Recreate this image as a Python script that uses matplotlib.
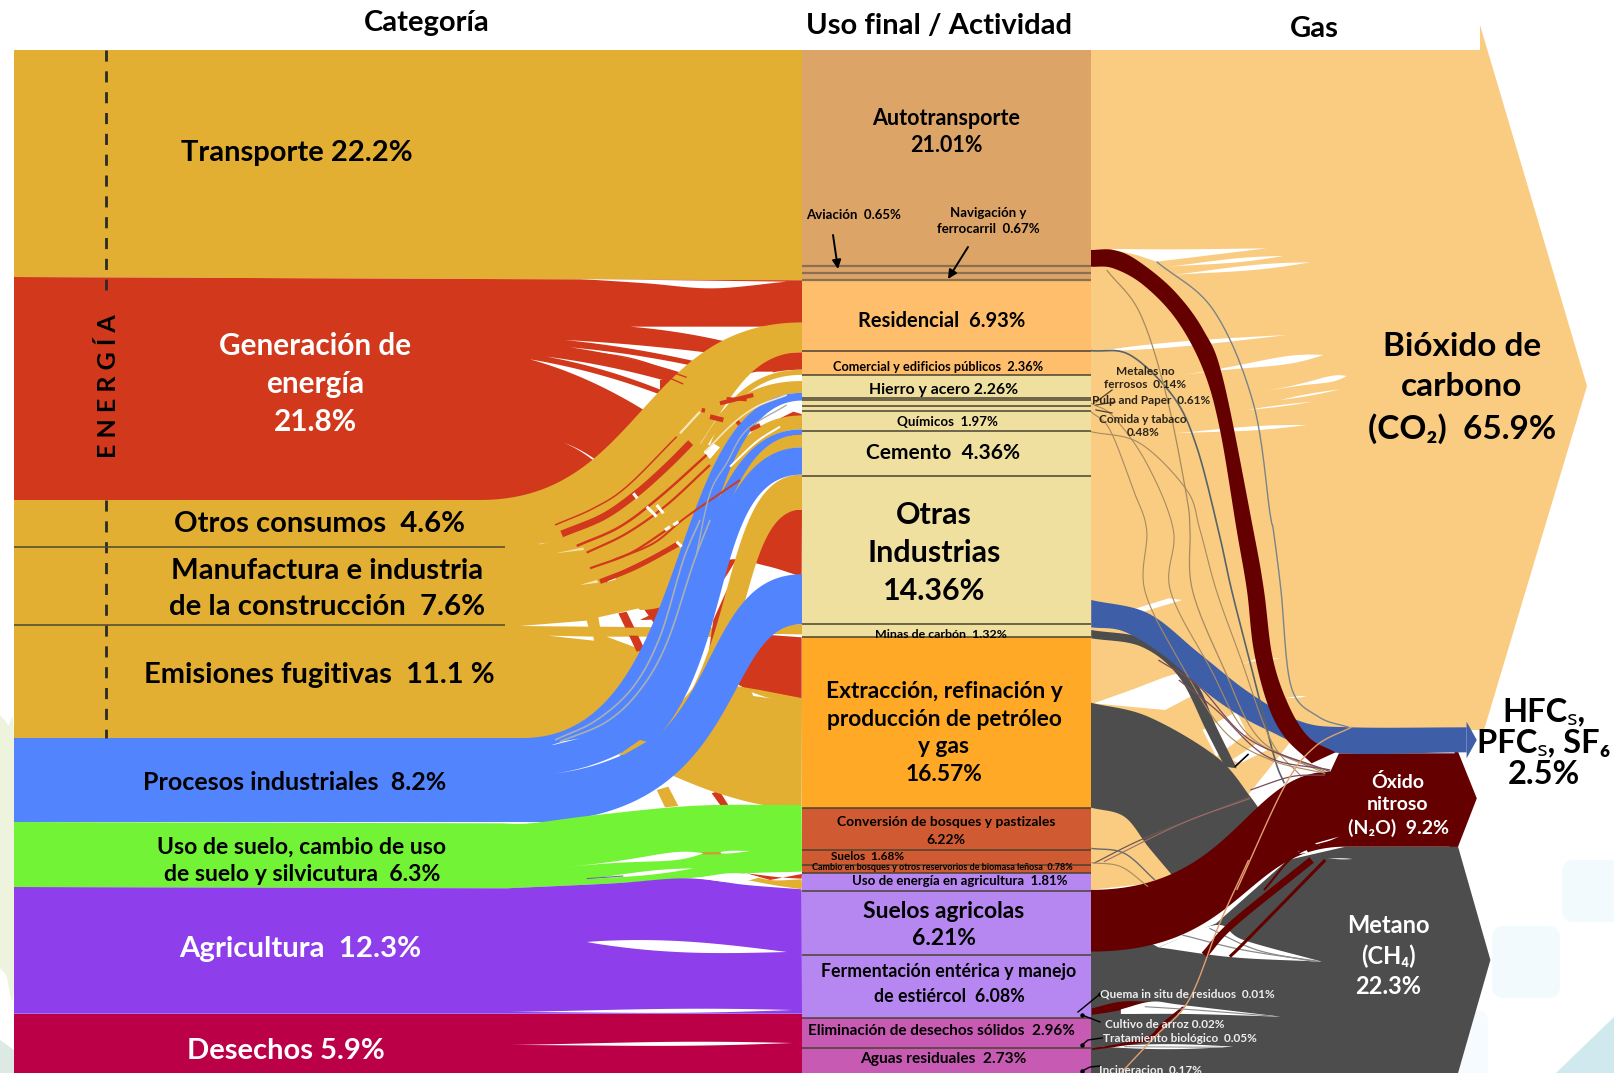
"""Sankey of emissions: category -> end use -> gas, drawn by hand with polygons."""
import numpy as np
import matplotlib
matplotlib.use("Agg")
import matplotlib.pyplot as plt
from matplotlib.patches import FancyBboxPatch

W, H = 1614, 1073
FONT = ["Lato", "Noto Sans", "DejaVu Sans"]

GOLD = "#E3AF33"
RED = "#D2391C"
BLUE = "#5285FD"
GREEN = "#73F336"
PURPLE = "#8E3FEB"
CRIMSON = "#BB0047"
PEACH = "#FACC82"
WINE = "#640000"
SLATE = "#4D4D4D"
NAVY = "#3E5FA8"

cat_labels = ["Transporte 22.2%", "Generación de\nenergía\n21.8%", "Otros consumos  4.6%",
              "Manufactura e industria\nde la construcción  7.6%", "Emisiones fugitivas  11.1 %",
              "Procesos industriales  8.2%", "Uso de suelo, cambio de uso\nde suelo y silvicutura  6.3%",
              "Agricultura  12.3%", "Desechos 5.9%"]
cat_values = [22.2, 21.8, 4.6, 7.6, 11.1, 8.2, 6.3, 12.3, 5.9]

use_values = [21.01, 0.65, 0.67, 6.93, 2.36, 2.26, 0.14, 0.61, 0.48, 1.97, 4.36, 14.36, 1.32,
              16.57, 6.22, 1.68, 0.78, 1.81, 6.21, 6.08, 2.96, 2.73]
# the land use block is drawn narrower than its share in the original
use_squeeze = [1, 1, 1, 1, 1, 1, 1, 1, 1, 1, 1, 1, 1, 1, .66, .87, 1, 1, 1, 1, 1, 1]
use_colors = ["#DDA468"] * 3 + ["#FEBE6C"] * 2 + ["#EFE0A0"] * 8 + ["#FFA927"] + ["#D05A32"] * 3 \
    + ["#B687F0"] * 3 + ["#C75AB2"] * 2

# what reaches the left edge of the end use column, top to bottom
left_colors = [GOLD, RED, GOLD, RED, GOLD, RED, GOLD, BLUE, RED, GOLD, BLUE, GOLD, BLUE, GOLD, RED,
               BLUE, GOLD, RED, GOLD, GREEN, RED, GOLD, PURPLE, CRIMSON]
left_values = [22.4, 4.1, 2.9, 1.7, 0.5, 0.6, 1.15, 0.75, 1.45, 1.35, 0.5, 1.25, 2.65, 3.4, 6.3,
               4.85, 1.0, 6.2, 10.0, 6.5, 0.6, 1.15, 12.45, 5.75]
# what leaves the right edge of the end use column
right_colors = [PEACH, WINE, PEACH, NAVY, PEACH, SLATE, PEACH, SLATE, PEACH, WINE, SLATE]
right_values = [19.45, 1.65, 32.4, 2.7, 0.5, 1.15, 5.65, 10.2, 8.0, 6.0, 11.8]

SCALE = 10.28
TOP = 50
XL, XM, XR = 14, 802, 1091

fig = plt.figure(figsize=(W / 100, H / 100), dpi=100)
ax = fig.add_axes([0, 0, 1, 1])
ax.set_xlim(0, W)
ax.set_ylim(H, 0)
ax.axis("off")


def stack(values, factors=None):
    v = np.asarray(values, float) * SCALE
    if factors is not None:
        v = v * np.asarray(factors)
    return TOP + np.concatenate([[0], np.cumsum(v)])


L = stack(left_values)
R = stack(right_values)
M = stack(use_values, use_squeeze)


def bez(p0, p1, k0=.5, k1=.5, n=80):
    t = np.linspace(0, 1, n)[:, None]
    p0, p1 = np.array(p0, float), np.array(p1, float)
    dx = p1[0] - p0[0]
    c0 = p0 + [k0 * dx, 0]
    c1 = p1 - [k1 * dx, 0]
    return (1 - t) ** 3 * p0 + 3 * (1 - t) ** 2 * t * c0 + 3 * (1 - t) * t ** 2 * c1 + t ** 3 * p1


def smooth(pts, n=16):
    p = np.array(pts, float)
    p = np.vstack([2 * p[0] - p[1], p, 2 * p[-1] - p[-2]])
    out = []
    for i in range(1, len(p) - 2):
        t = np.linspace(0, 1, n, endpoint=False)[:, None]
        out.append(.5 * (2 * p[i] + (p[i + 1] - p[i - 1]) * t
                         + (2 * p[i - 1] - 5 * p[i] + 4 * p[i + 1] - p[i + 2]) * t ** 2
                         + (3 * p[i] - p[i - 1] - 3 * p[i + 1] + p[i + 2]) * t ** 3))
    out.append(p[-2:-1])
    return np.vstack(out)


def z(pts, ox, oy, fx=3.0):
    return [(ox + x / fx, oy + y / 3) for x, y in pts]


def z1(*pts):
    return z(pts, 480, 260)


def z2(*pts):
    return z(pts, 480, 520)


def z3(*pts):
    return z(pts, 1080, 230)


def z4(*pts):
    return z(pts, 1080, 590, 2.936)


def z5(*pts):
    return z(pts, 1080, 860, 2.936)


def poly(pts, color, zo=None):
    pts = np.asarray(pts)
    ax.fill(pts[:, 0], pts[:, 1], color=color, lw=0, zorder=zo)


def between(top, bottom, color):
    poly(np.vstack([top, bottom[::-1]]), color)


def curve(pts, color, lw):
    p = smooth(pts)
    ax.plot(p[:, 0], p[:, 1], color=color, lw=lw, solid_capstyle="butt")


def wedge(tip, a, b, color="white", bend=.22):
    """Pointed sliver opening from tip towards the edge a-b."""
    tip, a, b = [np.array(q, float) for q in (tip, a, b)]
    t = np.linspace(0, 1, 30)[:, None]
    def arc(e):
        c = np.array([(tip[0] + e[0]) / 2, tip[1] + bend * (e[1] - tip[1])])
        return (1 - t) ** 2 * tip + 2 * (1 - t) * t * c + t ** 2 * e
    poly(np.vstack([arc(a), arc(b)[::-1]]), color)


def lens(x0, y0, x1, y1, h, peak=.6, color="white"):
    """Sharp ended sliver, h thick at fraction peak of its length."""
    t = np.linspace(0, 1, 40)
    s = np.sin(np.pi * t ** (np.log(.5) / np.log(peak)))
    x = x0 + (x1 - x0) * t
    y = y0 + (y1 - y0) * t
    poly(np.column_stack([np.r_[x, x[::-1]], np.r_[y - h / 2 * s, (y + h / 2 * s)[::-1]]]), color)


# faint background shapes
for (x, y, w, h, c) in [(1562, 860, 90, 62, "#F3FAFD"), (1492, 926, 68, 72, "#F3FAFD"),
                        (1458, 1010, 30, 80, "#F5FBFE")]:
    ax.add_patch(FancyBboxPatch((x, y), w, h, boxstyle="round,pad=0,rounding_size=12", fc=c, ec="none"))
poly([(1556, 1073), (1614, 1017), (1614, 1073)], "#CFE9EE")
poly(smooth([(0, 715), (8, 725), (14, 740), (14, 985), (6, 975), (0, 968)]), "#EEF3DE")
poly([(0, 1040), (14, 1050), (14, 1073), (0, 1073)], "#DDEAE3")

# ---- left half: category -> end use ----
poly([(XL, TOP), (XM, TOP), (XM, L[1]), (480, 279), (XL, 277)], GOLD)

# generation fan
g1_top = bez((480, 500), (XM, L[2]))
poly(np.vstack([[(XL, 277), (480, 279), (XM, L[1]), (XM, L[3] + 4)], g1_top[::-1] + [0, 4], [(XL, 500)]]), RED)
poly(smooth(z1((300, 57), (500, 70), (700, 85), (920, 65))), "white")
wedge(*z1((450, 200), (760, 250), (860, 200)), bend=.25)
wedge(*z1((255, 240), (680, 312), (700, 280)), bend=.3)
wedge(*z1((270, 262), (640, 350), (650, 320)), bend=.3)
wedge(*z1((200, 290), (580, 405), (600, 375)), bend=.3)
wedge(*z1((150, 298), (520, 468), (570, 415)), bend=.3)
for a, b in [((290, 272), (620, 352)), ((300, 280), (610, 372))]:
    curve(z1(a, ((a[0] + b[0]) / 2, a[1] + .3 * (b[1] - a[1])), b), RED, 1.0)
wedge(*z1((250, 548), (368, 625), (372, 618)), bend=.3)

# red that goes on below the main gold band
between(bez((660, 380), (XM, L[3])), bez((660, 410), (XM, L[4])), RED)
poly(z1((720, 370), (760, 350), (830, 335), (880, 335), (850, 380), (760, 440), (690, 500), (620, 540), (600, 500)), "white")
poly(z1((800, 380), (940, 370), (860, 410), (700, 500), (680, 450)), "white")

# gold that feeds Otros consumos / Manufactura / Emisiones
poly([(XL, 500), (560, 500), (XM - 130, 450), (XM - 110, 520), (XM - 120, 600), (620, 700), (560, 738), (XL, 738)], GOLD)
between(bez((530, 553), (XM, L[6]), .62, .5), bez((523, 745), (XM, L[7]), .62, .5), GOLD)
poly(z1((625, 545), (660, 480), (725, 465), (690, 555)), "white")
poly(z1((670, 575), (700, 550), (720, 562), (690, 597)), "white")

# thin gold bands
between(bez((570, 531), (XM, L[4]), .62, .5), bez((580, 538), (XM, L[5]), .62, .5), GOLD)

# red stripes on the gold
for pts, lw in [(((245, 822), (370, 770), (470, 700), (560, 620), (632, 548)), 5.0),
                (((290, 858), (420, 800), (540, 710), (680, 585)), 1.8),
                (((320, 878), (440, 820), (560, 735), (690, 615)), 1.6),
                (((400, 900), (520, 850), (620, 770), (780, 660)), 1.4),
                (((690, 470), (730, 480)), 3.5), (((720, 430), (820, 405)), 3.0),
                (((740, 415), (800, 420)), 2.0), (((810, 510), (840, 495)), 3.0),
                (((770, 492), (780, 485)), 3.0), (((665, 450), (675, 452)), 3.0)]:
    curve(z1(*pts), RED, lw)
for pts, lw in [(((330, 145), (450, 100), (560, 30)), 1.6), (((360, 185), (470, 140), (600, 70)), 3.5),
                (((410, 165), (520, 110), (590, 70)), 2.0)]:
    curve(z2(*pts), RED, lw)
for pts in [z1((460, 700), (472, 715)), z1((500, 740), (530, 770)), z1((530, 735), (550, 760)),
            z1((555, 810), (570, 800)), z1((580, 795), (595, 785)), z1((590, 845), (605, 860))]:
    curve(pts, "white", 2.2)
poly(z1((120, 832), (245, 815), (255, 835), (180, 853)), "white")
poly(z2((225, 100), (310, 82), (312, 90)), "#F5DFA0")
poly(z2((300, 195), (350, 180), (355, 188)), "#F8E8B8")
poly(z2((360, 180), (380, 175), (380, 188)), RED)
poly(z2((380, 172), (405, 165), (408, 178), (385, 185)), "#FFFFFF")
poly(z2((120, 318), (320, 302), (325, 320)), "white")
poly(z2((205, 347), (340, 350), (342, 362)), "white")

# gold band to Residencial, drawn over the stripes
between(g1_top, bez((500, 546), (XM, L[3]), .75, .35), GOLD)
curve(z1((225, 795), (340, 745), (440, 680), (590, 530)), RED, 1.1)
curve(z1((600, 520), (660, 455)), "#F8E8B8", 1.6)

# middle blobs under the blue
poly(z2((355, 292), (490, 262), (530, 322), (360, 320)), "white")
poly(z2((380, 350), (500, 350), (590, 360), (580, 420), (500, 395)), "white")
poly(z2((490, 265), (555, 232), (660, 175), (640, 300), (600, 360), (530, 320)), RED)
poly(z2((415, 280), (440, 275), (495, 390), (470, 395)), RED)
poly(z2((320, 323), (760, 323), (760, 352), (350, 345)), GOLD)
poly(z2((680, 440), (730, 355), (800, 265), (820, 240), (950, 172), (965, 120), (965, 0), (890, 0), (770, 100), (720, 200)), "#FFFFFF")
between(bez((640, 620), (XM, L[14]), .7, .5), smooth(z2((700, 190), (745, 120), (860, 138), (965, 170))), RED)
poly(z2((680, 440), (730, 355), (800, 265), (745, 200), (700, 300)), RED)
poly(z2((742, 218), (795, 262), (790, 268), (737, 228)), "white")
poly(z2((655, 445), (670, 425), (690, 440), (670, 465)), "white")
# Extraccion: red then gold
poly(np.vstack([smooth(z2((800, 340), (965, 352))), smooth(z2((965, 548), (880, 530), (815, 515), (700, 450)))]), RED)
poly(z2((530, 810), (565, 800), (595, 858), (555, 862)), GOLD)
poly(z2((695, 820), (718, 812), (745, 855), (722, 857)), RED)
poly(np.vstack([smooth(z2((560, 760), (700, 815), (850, 855), (965, 858))), [(XM, L[18]), (760, 690), (700, 680), (640, 750)]]), GOLD)
poly(np.vstack([smooth(z2((815, 515), (880, 538), (965, 550))), smooth(z2((965, 552), (880, 560), (815, 530)))]), GOLD)
poly(np.vstack([smooth(z2((815, 517), (860, 532), (895, 538))), z2((820, 528))]), "white")
between(bez((575, 765), (XM, L[13]), .8, .45), bez((610, 765), (XM, L[14]), .8, .4), GOLD)

# horizontal gold band to Minas
poly([(XM - 60, L[16] + 2), (XM, L[16]), (XM, L[17]), (XM - 60, L[17] - 1)], GOLD)
poly(z1((940, 455), (965, 462), (965, 470), (900, 475)), RED)
poly(z1((895, 525), (965, 518), (965, 532), (930, 530)), RED)

# thin gold bands before the blue
between(bez((600, 560), (XM, L[9]), .6, .5), bez((625, 580), (XM, L[10]), .6, .5), GOLD)
between(bez((620, 590), (XM, L[11]), .6, .5), bez((640, 610), (XM, L[12]), .6, .5), GOLD)
curve(z1((675, 575), (760, 490), (830, 440), (920, 405)), "#F5E6C0", 1.2)
curve(z1((750, 620), (830, 545), (900, 500)), "white", 1.4)

# process emissions
poly([(XL, 738), (560, 738), (560, 822), (XL, 822)], BLUE)
between(bez((523, 738), (XM, L[7]), .62, .5), bez((570, 743), (XM, L[8]), .62, .5), BLUE)
between(bez((540, 742), (XM, L[10]), .65, .5), bez((575, 742), (XM, L[11]), .65, .5), BLUE)
curve(z2((225, 660), (350, 600), (460, 500), (540, 350), (610, 120), (660, 0)), "#A8B0B0", 1.2)
curve(z2((240, 665), (380, 605), (480, 510), (560, 370), (640, 130), (690, 0)), "#A8B0B0", 1.2)
curve(z1((650, 880), (690, 700), (740, 610), (800, 510), (920, 435)), "#A8B0B0", 1.0)
between(bez((560, 742), (XM, L[12]), .62, .5), bez((540, 785), (XM, L[13]), .85, .45), BLUE)
poly(z2((200, 680), (250, 664), (300, 655)), "white")
between(bez((555, 773), (XM, L[15]), .7, .45), bez((530, 822), (XM, L[16]), .8, .3), BLUE)
poly([(500, 745), (600, 745), (600, 810), (560, 820), (500, 822)], BLUE)
wedge(*z2((225, 760), (425, 698), (420, 708)), bend=.2)
poly(z2((415, 705), (480, 660), (500, 665), (430, 705)), GOLD)

# land use, agriculture, waste
poly(np.vstack([[(XL, 822)], smooth(z2((60, 910), (150, 910), (350, 885), (650, 857), (965, 855))),
                [(XM, L[20])], smooth(z2((965, 1055), (800, 1060), (620, 1075), (400, 1090), (80, 1105))), [(XL, 887)]]), GREEN)
poly(np.vstack([smooth(z2((800, 1060), (900, 1072), (965, 1076))), [(XM, L[21]), (770, 880)]]), RED)
poly(np.vstack([smooth(z2((780, 1058), (870, 1080), (965, 1078))), [(XM, L[22])], smooth(z2((965, 1108), (880, 1095), (800, 1080)))]), GOLD)
poly(np.vstack([[(XL, 887)], smooth(z2((80, 1105), (400, 1090), (620, 1075), (800, 1095), (965, 1108))), [(XM, L[23]), (XL, L[23])]]), PURPLE)
lens(*z2((640, 1074))[0], *z2((840, 1072))[0], 9, color="white")
poly([(XL, L[23]), (XM, L[23]), (XM, H), (XL, H)], CRIMSON)
lens(*z2((220, 1045))[0], *z2((670, 1000))[0], 8, .8)
lens(*z2((720, 998))[0], *z2((810, 993))[0], 2.5, .3)
poly(z2((668, 996), (722, 996), (722, 1003), (668, 1004)), "#C9A236")
lens(*z2((320, 1078))[0], *z2((640, 1045))[0], 4, .6)
curve(z2((320, 1076), (430, 1068)), "#6A6AA0", .8)
lens(587, 942, 787, 952, 11, .45)
lens(495 * 1.029, 1012, 770 * 1.029, 1010, 4, .6)
lens(495 * 1.029, 1045, 770 * 1.029, 1043, 4, .6)

# ---- end use column ----
for i, v in enumerate(use_values):
    ax.fill_between([XM, XR], M[i], M[i + 1], color=use_colors[i], lw=0)
ax.fill_between([XM, XR], M[21], H, color=use_colors[21], lw=0)
ax.hlines(M[4:22], XM, XR, color="#4A4230", lw=1.1)
ax.hlines(M[[1, 2, 3]], XM, XR, color="#8A6F50", lw=1.6)

# ---- right half: end use -> gas ----
poly([(XR, TOP), (1480, TOP), (1480, 25), (1587, 386), (1484, 730), (1300, 730), (1260, 780),
      (1180, 880), (XR, R[9])], PEACH)
poly(np.vstack([smooth(z4((40, 340), (150, 300), (270, 255), (345, 245))), z4((380, 290), (250, 360))]), "white")
poly(z4((360, 420), (460, 365), (490, 430), (400, 500)), "white")
poly(z4((445, 510), (520, 460), (550, 480), (470, 520)), "white")
poly(z4((500, 630), (600, 560), (700, 530), (735, 540), (620, 570)), "white")
poly(z4((150, 60), (260, 25), (300, 30), (170, 70)), "white")
lens(*z3((70, 362))[0], *z3((620, 315))[0], 5, .4)
lens(*z3((270, 440))[0], *z3((730, 375))[0], 8, .75)
lens(*z3((470, 500))[0], *z3((800, 438))[0], 6, .85)
lens(*z3((600, 510))[0], *z3((780, 478))[0], 2, .5)
lens(*z3((500, 540))[0], *z3((700, 515))[0], 1.5, .5)
lens(*z3((280, 610))[0], *z3((680, 585))[0], 4, .6)
poly(np.vstack([smooth(z3((90, 57), (300, 58), (560, 55))), z3((230, 95), (170, 75))]), "white")
lens(*z3((265, 110))[0], *z3((610, 78))[0], 4, .6)
lens(*z3((275, 135))[0], *z3((690, 97))[0], 5, .6)
lens(*z4((600, 325))[0], *z4((665, 318))[0], 1.5)
poly(z4((590, 205), (500, 215), (470, 225), (520, 205)), "white")

# methane arrow
poly([(XR, R[9] + 20), *z5((230, 262), (400, 190), (610, 0)), *z4((780, 770)), *z4((1085, 770), (1085, 720), (1110, 770)),
      *z5((1205, 300), (1110, 639)), (XR, H)], SLATE)

# big methane arc
poly(np.vstack([smooth([(XR, R[7]), *z4((200, 380), (400, 500), (500, 620), (540, 680))]),
                z4((270, 900)), smooth([*z4((270, 855), (200, 770), (130, 680)), (XR, R[8])])]), SLATE)

# thin methane arc
top = smooth(z4((33, 120), (200, 150), (330, 260), (400, 410), (460, 535)))
bot = smooth(z4((33, 145), (180, 170), (290, 260), (370, 420), (425, 530)))
between(top, bot, SLATE)

# wedge inside methane
poly(np.vstack([smooth(z5((230, 262), (400, 195), (480, 240), (710, 305))), smooth(z5((710, 305), (450, 292), (230, 262)))]), "white")
for a in [z5((300, 225), (480, 270), (700, 304)), z5((380, 205), (520, 270), (690, 305))]:
    curve(a, "#8A8A8A", .9)
poly(np.vstack([smooth(z5((35, 445), (120, 425), (210, 425))), smooth(z5((210, 425), (120, 450), (35, 465)))]), WINE)
poly(np.vstack([smooth(z5((120, 448), (210, 425), (300, 435), (590, 470))), smooth(z5((590, 470), (320, 462), (120, 462)))]), "white")
curve(z5((190, 440), (340, 450), (560, 468)), "#8A8A8A", .8)
lens(*z5((60, 560))[0], *z5((450, 560))[0], 5, .5)
curve(z5((130, 560), (420, 562)), "#9A9A9A", .8)
poly(np.vstack([smooth(z5((35, 565), (120, 550), (200, 530), (240, 490), (300, 440))), smooth(z5((310, 440), (245, 500), (205, 540), (120, 558), (35, 570)))]), WINE)

# nitrous oxide arrow
n_top = bez((XR, R[9]), z4((735, 545))[0], .6, .35)
n_bot = bez((XR, R[10]), z4((780, 770))[0], .6, .4)
poly(np.vstack([n_top, z4((760, 490), (1100, 490), (1100, 460), (1165, 625), (1110, 770)), n_bot[::-1]]), WINE)
for pts, lw in [(z5((365, 285), (450, 190), (680, 0)), 5.0), (z5((440, 290), (490, 240), (720, 0)), 2.2),
                (z4((540, 900), (640, 790), (790, 740)), 1.5)]:
    curve(pts, WINE, lw)
poly(z4((640, 785), (665, 780), (670, 788), (645, 792)), "white")
poly(z4((690, 760), (760, 740), (700, 768)), "white")
lens(*z4((725, 805))[0], *z4((800, 807))[0], 1.5, color="#CFCFCF")

# gas band, HFC
b_top = smooth(z4((33, 30), (200, 70), (350, 190), (500, 310), (650, 395), (800, 412), (1135, 412)))
b_bot = smooth(z4((33, 112), (130, 125), (250, 200), (400, 330), (550, 420), (740, 487), (1135, 487)))
between(b_top, b_bot, NAVY)
poly(z4((1135, 395), (1165, 450), (1135, 505)), NAVY)

# CO2 from end uses into N2O
o_top = smooth([*z3((33, 60), (100, 60), (170, 90), (280, 180), (370, 300), (430, 450), (520, 900)),
                *z4((540, 0), (565, 200), (610, 340), (670, 440), (750, 487))])
o_bot = smooth([*z3((33, 110), (100, 115), (190, 165), (290, 270), (370, 420), (420, 600), (470, 900)),
                *z4((490, 0), (510, 180), (550, 340), (600, 440), (680, 520))])
between(o_top, o_bot, WINE)

# thin lines running into the N2O and CH4 nodes
for pts, c, lw in [
    (z3((33, 362), (150, 375), (280, 500), (350, 650), (415, 900)) + z4((445, 0), (500, 220), (570, 500), (600, 580)), "#5A6468", 1.2),
    (z3((80, 120), (180, 250), (260, 500), (320, 800), (330, 900)) + z4((330, 0), (420, 230), (530, 450), (720, 545)), "#A88A60", .9),
    (z3((33, 520), (100, 560), (200, 700), (280, 900)) + z4((265, 0), (380, 230), (500, 440), (720, 550)), "#A88A60", .8),
    (z3((33, 545), (90, 600), (160, 780), (200, 900)) + z4((190, 0), (290, 210), (420, 420), (560, 510), (720, 550)), "#A88A60", .8),
    (z3((33, 605), (180, 640), (320, 780), (360, 900)) + z4((400, 0), (470, 200), (560, 450), (650, 560)), "#A88A60", .8),
    (z3((230, 95), (400, 240), (520, 520), (570, 850), (580, 900)) + z4((590, 0), (620, 290), (700, 380), (790, 412)), "#7A8488", 1.0),
    (z4((230, 210), (350, 290), (500, 450), (735, 545)), "#7A4A5A", .9),
    (z4((290, 270), (400, 360), (550, 500), (735, 540)), "#7A4A5A", .9),
    (z4((500, 600), (620, 560), (720, 555)), "#7A4A5A", .9),
    (z4((40, 820), (200, 740), (500, 620)), "#6A5A50", .9),
    (z4((70, 815), (300, 700), (500, 625)), "#A06A6A", .8),
    (z4((33, 775), (130, 790), (220, 870)), "#6A6A6A", 1.0),
    (z4((33, 818), (120, 830), (200, 890)), "#A88A60", .8),
    (z4((460, 900), (600, 590), (690, 470), (800, 410)), "#E0A070", 1.0),
    (z5((120, 639), (220, 530), (320, 420), (410, 190), (495, 0)), "#E0A070", 1.0),
]:
    curve(pts, c, lw)
curve(z4((455, 530), (495, 492)), "black", 1.2)

# ---- annotations ----
ax.vlines(106, TOP, 290, color="#2A2A2A", lw=2, linestyle=(0, (4, 3.5)))
ax.vlines(106, 500, 738, color="#2A2A2A", lw=2, linestyle=(0, (4, 3.5)))
ax.hlines([547, 625], XL, 505, color="#4A4A30", lw=1.1)
for (x0, y0, x1, y1) in [(833, 235, 838, 269), (968, 247, 948, 279)]:
    ax.annotate("", xy=(x1, y1), xytext=(x0, y0),
                arrowprops=dict(arrowstyle="-|>", color="black", lw=1.4, mutation_scale=13, shrinkA=0, shrinkB=0))
for a, b in [((1112, 390), (1096, 402)), ((1115, 402), (1096, 405)), ((1112, 413), (1096, 410))]:
    ax.plot(*zip(a, b), color="#4A4230", lw=.9)
for pts in [((1100, 994), (1078, 1012)), ((1082, 1015), (1100, 1022)), ((1082, 1045), (1088, 1040), (1102, 1038)),
            ((1082, 1071), (1090, 1067), (1100, 1066))]:
    ax.plot(*zip(*pts), color="black", lw=1)
    ax.plot(*pts[0], "o", color="black", ms=2.2)


def txt(x, y, s, size, color="black", ls=1.4, **kw):
    ax.text(x, y + 2, s, fontsize=size, color=color, ha="center", va="center", family=FONT,
            fontweight="bold", linespacing=ls, **kw)


txt(427, 21, "Categoría", 21)
txt(939, 24, "Uso final / Actividad", 21)
txt(1314, 27, "Gas", 21)

cat_pos = [(297, 151), (315, 382), (320, 522), (327, 587), (319, 673), (295, 781), (302, 859), (300, 947), (286, 1049)]
cat_size = [21, 21.4, 21, 21.2, 21, 18, 16.6, 21.2, 21]
cat_text = ["black", "white", "black", "black", "black", "black", "black", "white", "white"]
cat_ls = [1.4, 1.42, 1.4, 1.45, 1.4, 1.4, 1.4, 1.4, 1.4]
for s, (x, y), fs, c, ls in zip(cat_labels, cat_pos, cat_size, cat_text, cat_ls):
    txt(x, y, s, fs, c, ls=ls)
txt(108, 384, "E N E R G Í A", 18, rotation=90)

use_notes = [(946, 130, "Autotransporte\n21.01%", 15.5, 1.4), (854, 213, "Aviación  0.65%", 9.5, 1.25),
             (988, 219, "Navigación y\nferrocarril  0.67%", 9.5, 1.35), (942, 319, "Residencial  6.93%", 14.5, 1.25),
             (938, 365, "Comercial y edificios públicos  2.36%", 9.2, 1.25), (944, 388, "Hierro y acero 2.26%", 11.4, 1.25),
             (947, 420, "Químicos  1.97%", 9.6, 1.25), (943, 451, "Cemento  4.36%", 15, 1.25),
             (934, 551, "Otras\nIndustrias\n14.36%", 21.9, 1.45), (941, 632, "Minas de carbón  1.32%", 8.9, 1.25),
             (944, 731, "Extracción, refinación y\nproducción de petróleo\ny gas\n16.57%", 16.4, 1.4),
             (946, 829, "Conversión de bosques y pastizales\n6.22%", 10, 1.5), (868, 854, "Suelos  1.68%", 8.5, 1.25),
             (942, 865, "Cambio en bosques y otros reservorios de biomasa leñosa  0.78%", 6.5, 1.25),
             (960, 879, "Uso de energía en agricultura  1.81%", 9.5, 1.25), (944, 923, "Suelos agricolas\n6.21%", 16.5, 1.4),
             (949, 982, "Fermentación entérica y manejo\nde estiércol  6.08%", 12.8, 1.5),
             (941, 1029, "Eliminación de desechos sólidos  2.96%", 11, 1.25), (943, 1057, "Aguas residuales  2.73%", 11.2, 1.25)]
for x, y, s, fs, ls in use_notes:
    txt(x, y, s, fs, ls=ls)

txt(1462, 386, "Bióxido de\ncarbono\n(CO₂)  65.9%", 24, ls=1.45)
txt(1544, 741, "HFCₛ,\nPFCₛ, SF₆\n2.5%", 23.5, ls=1.1)
txt(1398, 803, "Óxido\nnitroso\n(N₂O)  9.2%", 14, "white", ls=1.4)
txt(1388, 954, "Metano\n(CH₄)\n22.3%", 17, "white", ls=1.35)

for x, y, s in [(1145, 376, "Metales no\nferrosos  0.14%"), (1151, 399, "Pulp and Paper  0.61%"),
                (1143, 424, "Comida y tabaco\n0.48%")]:
    txt(x, y, s, 8.5, "#2A2418", ls=1.3)
for x, y, s in [(1187, 992, "Quema in situ de residuos  0.01%"), (1165, 1023, "Cultivo de arroz 0.02%"),
                (1180, 1036, "Tratamiento biológico  0.05%"), (1150, 1068, "Incineracion  0.17%")]:
    txt(x, y, s, 8.5, "#EDEDED")

ax.set_xlim(0, W)
ax.set_ylim(H, 0)
fig.savefig("out.png", dpi=100)
